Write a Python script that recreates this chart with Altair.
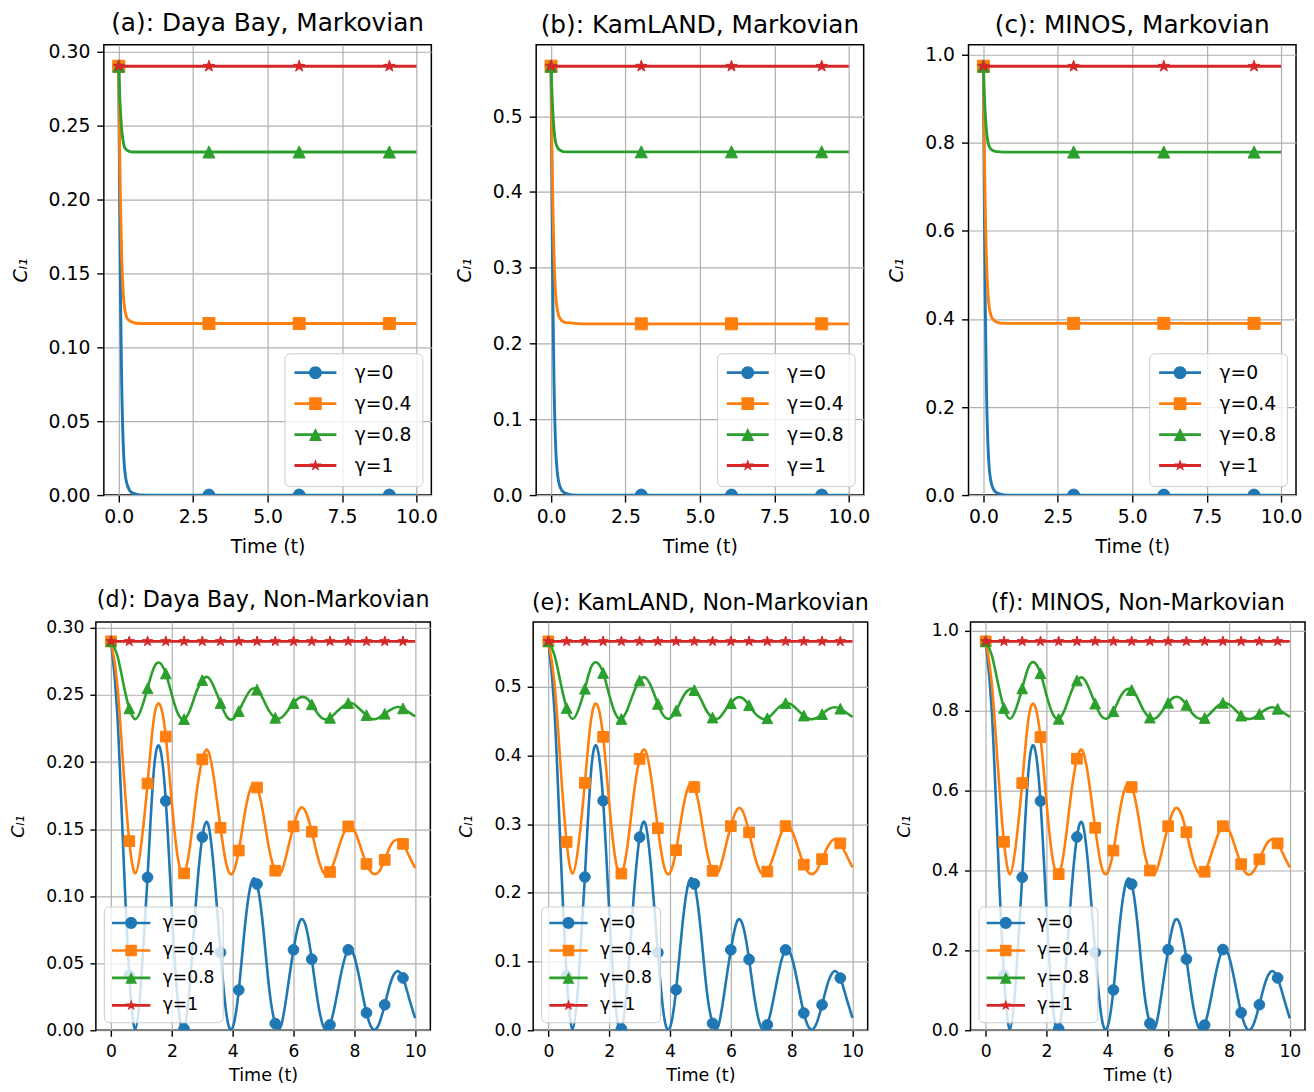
import altair as alt
import pandas as pd

SERIES = ["γ=0", "γ=0.4", "γ=0.8", "γ=1"]
COLORS = ["#1f77b4", "#ff7f0e", "#2ca02c", "#d62728"]

# ---------------- Markovian (top row) ----------------
T_M = [0.0, 0.03, 0.06, 0.1, 0.15, 0.2, 0.3, 0.45, 0.7, 1.0, 3.03, 6.06, 9.09, 10.0]
T_M_RED = [0.0, 3.03, 6.06, 9.09, 10.0]
MARK_T_M = [0.0, 3.03, 6.06, 9.09]

DB_M_G0 = [0.290, 0.197, 0.133, 0.075, 0.035, 0.017, 0.006, 0.0015, 0.0001, 0.0, 0.0, 0.0, 0.0, 0.0]
DB_M_G04 = [0.290, 0.234, 0.196, 0.161, 0.137, 0.126, 0.119, 0.117, 0.116, 0.116, 0.116, 0.116, 0.116, 0.116]
DB_M_G08 = [0.290, 0.271, 0.259, 0.247, 0.239, 0.235, 0.233, 0.232, 0.232, 0.232, 0.232, 0.232, 0.232, 0.232]
DB_M_G1 = [0.290, 0.290, 0.290, 0.290, 0.290]

KL_M_G0 = [0.566, 0.385, 0.260, 0.147, 0.068, 0.034, 0.011, 0.003, 0.0003, 0.0, 0.0, 0.0, 0.0, 0.0]
KL_M_G04 = [0.566, 0.457, 0.383, 0.315, 0.267, 0.247, 0.233, 0.228, 0.227, 0.226, 0.226, 0.226, 0.226, 0.226]
KL_M_G08 = [0.566, 0.530, 0.505, 0.482, 0.466, 0.460, 0.455, 0.453, 0.453, 0.453, 0.453, 0.453, 0.453, 0.453]
KL_M_G1 = [0.566, 0.566, 0.566, 0.566, 0.566]

MI_M_G0 = [0.974, 0.662, 0.448, 0.253, 0.117, 0.058, 0.019, 0.005, 0.0005, 0.0, 0.0, 0.0, 0.0, 0.0]
MI_M_G04 = [0.974, 0.787, 0.658, 0.542, 0.460, 0.425, 0.401, 0.393, 0.390, 0.390, 0.390, 0.390, 0.390, 0.390]
MI_M_G08 = [0.974, 0.912, 0.869, 0.830, 0.803, 0.791, 0.783, 0.780, 0.779, 0.779, 0.779, 0.779, 0.779, 0.779]
MI_M_G1 = [0.974, 0.974, 0.974, 0.974, 0.974]

# ---------------- Non-Markovian (bottom row) ----------------
T_NM = [0.0, 0.2, 0.4, 0.6, 0.8, 1.0, 1.2, 1.4, 1.6, 1.8,
        2.0, 2.2, 2.4, 2.6, 2.8, 3.0, 3.2, 3.4, 3.6, 3.8,
        4.0, 4.2, 4.4, 4.6, 4.8, 5.0, 5.2, 5.4, 5.6, 5.8,
        6.0, 6.2, 6.4, 6.6, 6.8, 7.0, 7.2, 7.4, 7.6, 7.8,
        8.0, 8.2, 8.4, 8.6, 8.8, 9.0, 9.2, 9.4, 9.6, 9.8,
        10.0]
T_NM_RED = [0.0, 0.6, 1.2, 1.8, 2.4, 3.0, 3.6, 4.2, 4.8, 5.4, 6.0, 6.6, 7.2, 7.8, 8.4, 9.0, 9.6, 10.0]
MARK_T_NM = [0.0, 0.6, 1.2, 1.8, 2.4, 3.0, 3.6, 4.2, 4.8, 5.4, 6.0, 6.6, 7.2, 7.8, 8.4, 9.0, 9.6]

DB_NM_G0 = [0.290, 0.238, 0.135, 0.041, 0.001, 0.040, 0.114, 0.192, 0.211, 0.171,
            0.089, 0.020, 0.001, 0.036, 0.098, 0.144, 0.153, 0.115, 0.058, 0.011,
            0.002, 0.030, 0.077, 0.109, 0.109, 0.077, 0.031, 0.005, 0.004, 0.030,
            0.060, 0.081, 0.078, 0.053, 0.021, 0.002, 0.004, 0.023, 0.046, 0.060,
            0.055, 0.035, 0.013, 0.001, 0.004, 0.019, 0.036, 0.044, 0.039, 0.024,
            0.009]
DB_NM_G04 = [0.290, 0.259, 0.197, 0.141, 0.117, 0.140, 0.184, 0.231, 0.243, 0.219,
             0.169, 0.128, 0.117, 0.138, 0.175, 0.202, 0.208, 0.185, 0.151, 0.123,
             0.117, 0.134, 0.162, 0.181, 0.181, 0.162, 0.135, 0.119, 0.118, 0.134,
             0.152, 0.165, 0.163, 0.148, 0.129, 0.117, 0.118, 0.130, 0.144, 0.152,
             0.149, 0.137, 0.124, 0.117, 0.118, 0.127, 0.138, 0.142, 0.139, 0.130,
             0.121]
DB_NM_G08 = [0.290, 0.280, 0.259, 0.240, 0.232, 0.240, 0.255, 0.270, 0.274, 0.266,
             0.250, 0.236, 0.232, 0.239, 0.252, 0.261, 0.263, 0.255, 0.244, 0.234,
             0.232, 0.238, 0.247, 0.254, 0.254, 0.247, 0.238, 0.233, 0.233, 0.238,
             0.244, 0.248, 0.248, 0.243, 0.236, 0.232, 0.233, 0.237, 0.241, 0.244,
             0.243, 0.239, 0.235, 0.232, 0.233, 0.236, 0.239, 0.241, 0.240, 0.237,
             0.234]
DB_NM_G1 = [0.290, 0.290, 0.290, 0.290, 0.290, 0.290, 0.290, 0.290, 0.290,
            0.290, 0.290, 0.290, 0.290, 0.290, 0.290, 0.290, 0.290, 0.290]

KL_NM_G0 = [0.566, 0.465, 0.264, 0.080, 0.002, 0.078, 0.223, 0.375, 0.412, 0.334,
            0.174, 0.039, 0.002, 0.070, 0.191, 0.281, 0.299, 0.224, 0.113, 0.021,
            0.004, 0.059, 0.150, 0.213, 0.213, 0.150, 0.061, 0.010, 0.008, 0.059,
            0.117, 0.158, 0.152, 0.103, 0.041, 0.004, 0.008, 0.045, 0.090, 0.117,
            0.107, 0.068, 0.025, 0.002, 0.008, 0.037, 0.070, 0.086, 0.076, 0.047,
            0.018]
KL_NM_G04 = [0.566, 0.505, 0.385, 0.274, 0.228, 0.273, 0.360, 0.451, 0.474, 0.427,
             0.331, 0.250, 0.228, 0.268, 0.341, 0.395, 0.406, 0.361, 0.294, 0.239,
             0.229, 0.262, 0.316, 0.354, 0.354, 0.316, 0.263, 0.232, 0.231, 0.262,
             0.297, 0.321, 0.318, 0.288, 0.251, 0.229, 0.231, 0.253, 0.280, 0.297,
             0.291, 0.267, 0.241, 0.228, 0.231, 0.249, 0.268, 0.278, 0.272, 0.255,
             0.237]
KL_NM_G08 = [0.566, 0.546, 0.506, 0.469, 0.453, 0.468, 0.497, 0.528, 0.535, 0.520,
             0.488, 0.461, 0.453, 0.467, 0.491, 0.509, 0.513, 0.498, 0.475, 0.457,
             0.454, 0.465, 0.483, 0.495, 0.495, 0.483, 0.465, 0.455, 0.454, 0.465,
             0.476, 0.484, 0.483, 0.473, 0.461, 0.454, 0.454, 0.462, 0.471, 0.476,
             0.474, 0.466, 0.458, 0.453, 0.454, 0.460, 0.467, 0.470, 0.468, 0.462,
             0.456]
KL_NM_G1 = [0.566, 0.566, 0.566, 0.566, 0.566, 0.566, 0.566, 0.566, 0.566,
            0.566, 0.566, 0.566, 0.566, 0.566, 0.566, 0.566, 0.566, 0.566]

MI_NM_G0 = [0.974, 0.799, 0.453, 0.138, 0.003, 0.134, 0.383, 0.645, 0.709, 0.574,
            0.299, 0.067, 0.003, 0.121, 0.329, 0.484, 0.514, 0.386, 0.195, 0.037,
            0.007, 0.101, 0.259, 0.366, 0.366, 0.259, 0.104, 0.017, 0.013, 0.101,
            0.202, 0.272, 0.262, 0.178, 0.071, 0.007, 0.013, 0.077, 0.154, 0.202,
            0.185, 0.118, 0.044, 0.003, 0.013, 0.064, 0.121, 0.148, 0.131, 0.081,
            0.030]
MI_NM_G04 = [0.974, 0.869, 0.661, 0.472, 0.391, 0.470, 0.619, 0.777, 0.815, 0.734,
             0.569, 0.430, 0.391, 0.462, 0.587, 0.680, 0.698, 0.621, 0.507, 0.412,
             0.394, 0.450, 0.545, 0.609, 0.609, 0.545, 0.452, 0.400, 0.397, 0.450,
             0.511, 0.553, 0.547, 0.496, 0.432, 0.394, 0.397, 0.436, 0.482, 0.511,
             0.501, 0.460, 0.416, 0.391, 0.397, 0.428, 0.462, 0.478, 0.468, 0.438,
             0.408]
MI_NM_G08 = [0.974, 0.939, 0.870, 0.807, 0.780, 0.806, 0.856, 0.908, 0.921, 0.894,
             0.839, 0.793, 0.780, 0.803, 0.845, 0.876, 0.882, 0.856, 0.818, 0.787,
             0.781, 0.799, 0.831, 0.852, 0.852, 0.831, 0.800, 0.783, 0.782, 0.799,
             0.820, 0.834, 0.832, 0.815, 0.793, 0.781, 0.782, 0.795, 0.810, 0.820,
             0.816, 0.803, 0.788, 0.780, 0.782, 0.792, 0.803, 0.809, 0.805, 0.795,
             0.785]
MI_NM_G1 = [0.974, 0.974, 0.974, 0.974, 0.974, 0.974, 0.974, 0.974, 0.974,
            0.974, 0.974, 0.974, 0.974, 0.974, 0.974, 0.974, 0.974, 0.974]

# axis ticks
X_TICKS_M = [0, 2.5, 5, 7.5, 10]
X_TICKS_NM = [0, 2, 4, 6, 8, 10]
Y_TICKS_DB = [0.0, 0.05, 0.10, 0.15, 0.20, 0.25, 0.30]
Y_TICKS_KL = [0.0, 0.1, 0.2, 0.3, 0.4, 0.5]
Y_TICKS_MI = [0.0, 0.2, 0.4, 0.6, 0.8, 1.0]
Y_DOM_DB = [0, 0.3045]
Y_DOM_KL = [0, 0.5943]
Y_DOM_MI = [0, 1.0227]

FONT = "DejaVu Sans"

# marker glyphs (matplotlib o, s, ^, *)
TRI = "M0,-1L1,1L-1,1Z"
STAR = ("M0,-1L0.2245,-0.309L0.951,-0.309L0.363,0.118L0.588,0.809L0,0.382"
        "L-0.588,0.809L-0.363,0.118L-0.951,-0.309L-0.2245,-0.309Z")
SHAPES = ["circle", "square", TRI, STAR]

# legend glyphs: line segment (thin filled bar) + marker
BAR = "M-3.5,-0.24L3.5,-0.24L3.5,0.24L-3.5,0.24Z"
STAR_L = ("M0,-1.1L0.247,-0.34L1.046,-0.34L0.399,0.13L0.647,0.89L0,0.42"
          "L-0.647,0.89L-0.399,0.13L-1.046,-0.34L-0.247,-0.34Z")
LEG_PATHS = [
    BAR + "M1.08,0A1.08,1.08,0,1,1,-1.08,0A1.08,1.08,0,1,1,1.08,0Z",
    BAR + "M-1.05,-1.05L1.05,-1.05L1.05,1.05L-1.05,1.05Z",
    BAR + "M0,-1.08L1.08,1.08L-1.08,1.08Z",
    BAR + STAR_L,
]

TOP = dict(w=328, h=451, fs=18.8, tfs=24.8, afs=19, lw=2.9, ms=145, leg_sym=144,
           leg_so=11.5, leg_lo=30, leg_rp=11, leg_pad=10, leg_off=9, tick=7, lpad=5,
           ylpad=7, xtpad=12, ytpad=18, toff=7)
BOT = dict(w=335, h=409, fs=17.2, tfs=22.2, afs=17.6, lw=2.6, ms=115, leg_sym=121,
           leg_so=10.75, leg_lo=23, leg_rp=9.5, leg_pad=8, leg_off=8, tick=6, lpad=6,
           ylpad=6, xtpad=7, ytpad=18, toff=8)


def panel(title, series, mark_t, ydom, yticks, yfmt, xticks, xfmt, st, interp, orient):
    rows = []
    for name, (ts, vs) in zip(SERIES, series):
        for tt, vv in zip(ts, vs):
            rows.append({"t": tt, "C": vv, "series": name,
                         "mk": any(abs(tt - m) < 1e-9 for m in mark_t),
                         "first": tt == 0.0})
    df = pd.DataFrame(rows)

    common_axis = dict(
        labelFont=FONT, titleFont=FONT, labelColor="black", titleColor="black",
        labelFontSize=st["fs"], titleFontSize=st["afs"], titleFontWeight="normal",
        tickColor="black", tickSize=st["tick"], tickWidth=1.4,
        domain=False, grid=True, gridColor="#b0b0b0", gridWidth=1.2, labelFlush=False,
        labelOverlap=False,
    )
    xenc = alt.X("t:Q", title="Time (t)",
                 scale=alt.Scale(domain=[-0.5, 10.5], nice=False, zero=False),
                 axis=alt.Axis(values=xticks, format=xfmt, titlePadding=st["xtpad"],
                               labelPadding=st["lpad"], **common_axis))
    yenc = alt.Y("C:Q", title="Cₗ₁",
                 scale=alt.Scale(domain=ydom, nice=False, zero=False),
                 axis=alt.Axis(values=yticks, format=yfmt, titlePadding=st["ytpad"],
                               labelPadding=st["ylpad"], titleFontStyle="italic",
                               **common_axis))

    legend = alt.Legend(
        title=None, orient=orient, offset=st["leg_off"], padding=st["leg_pad"],
        fillColor="rgba(255,255,255,0.8)", strokeColor="#cccccc", cornerRadius=5,
        labelFont=FONT, labelFontSize=st["fs"], labelColor="black",
        symbolSize=st["leg_sym"], symbolStrokeWidth=0, symbolOffset=st["leg_so"],
        symbolOpacity=1, labelOffset=st["leg_lo"], rowPadding=st["leg_rp"],
    )

    base = alt.Chart(df)
    layers = []
    for i, name in enumerate(SERIES):
        sub = base.transform_filter(alt.datum.series == name)
        layers.append(
            sub.mark_line(interpolate=interp, strokeWidth=st["lw"], color=COLORS[i], clip=True)
            .encode(x=xenc, y=yenc)
        )
        layers.append(
            sub.transform_filter(alt.datum.mk)
            .mark_point(shape=SHAPES[i], filled=True, size=st["ms"], fill=COLORS[i],
                        stroke=COLORS[i], strokeWidth=1, opacity=1, clip=True)
            .encode(x=xenc, y=yenc)
        )
    # invisible layer that only carries the legend (line + marker glyphs)
    layers.append(
        base.transform_filter(alt.datum.first)
        .mark_point(filled=True, opacity=0)
        .encode(
            x=xenc, y=yenc,
            fill=alt.Fill("series:N", scale=alt.Scale(domain=SERIES, range=COLORS), legend=legend),
            shape=alt.Shape("series:N", scale=alt.Scale(domain=SERIES, range=LEG_PATHS), legend=legend),
        )
    )
    return alt.layer(*layers).properties(
        width=st["w"], height=st["h"],
        view=alt.ViewBackground(stroke="black", strokeWidth=1.5),
        title=alt.Title(title, font=FONT, fontSize=st["tfs"], fontWeight="normal",
                        color="black", offset=st["toff"], anchor="middle"),
    )


pa = panel("(a): Daya Bay, Markovian",
           [(T_M, DB_M_G0), (T_M, DB_M_G04), (T_M, DB_M_G08), (T_M_RED, DB_M_G1)],
           MARK_T_M, Y_DOM_DB, Y_TICKS_DB, ".2f", X_TICKS_M, ".1f", TOP, "monotone", "bottom-right")
pb = panel("(b): KamLAND, Markovian",
           [(T_M, KL_M_G0), (T_M, KL_M_G04), (T_M, KL_M_G08), (T_M_RED, KL_M_G1)],
           MARK_T_M, Y_DOM_KL, Y_TICKS_KL, ".1f", X_TICKS_M, ".1f", TOP, "monotone", "bottom-right")
pc = panel("(c): MINOS, Markovian",
           [(T_M, MI_M_G0), (T_M, MI_M_G04), (T_M, MI_M_G08), (T_M_RED, MI_M_G1)],
           MARK_T_M, Y_DOM_MI, Y_TICKS_MI, ".1f", X_TICKS_M, ".1f", TOP, "monotone", "bottom-right")
pd_ = panel("(d): Daya Bay, Non-Markovian",
            [(T_NM, DB_NM_G0), (T_NM, DB_NM_G04), (T_NM, DB_NM_G08), (T_NM_RED, DB_NM_G1)],
            MARK_T_NM, Y_DOM_DB, Y_TICKS_DB, ".2f", X_TICKS_NM, "d", BOT, "natural", "bottom-left")
pe = panel("(e): KamLAND, Non-Markovian",
           [(T_NM, KL_NM_G0), (T_NM, KL_NM_G04), (T_NM, KL_NM_G08), (T_NM_RED, KL_NM_G1)],
           MARK_T_NM, Y_DOM_KL, Y_TICKS_KL, ".1f", X_TICKS_NM, "d", BOT, "natural", "bottom-left")
pf = panel("(f): MINOS, Non-Markovian",
           [(T_NM, MI_NM_G0), (T_NM, MI_NM_G04), (T_NM, MI_NM_G08), (T_NM_RED, MI_NM_G1)],
           MARK_T_NM, Y_DOM_MI, Y_TICKS_MI, ".1f", X_TICKS_NM, "d", BOT, "natural", "bottom-left")


def indep(c):
    return c.resolve_scale(
        x="independent", y="independent", fill="independent", shape="independent"
    ).resolve_legend(fill="independent", shape="independent")


# tiny empty cell that nudges the top row a few pixels to the right of the bottom row
spacer = alt.Chart(pd.DataFrame({"s": [0]})).mark_point(opacity=0).encode(
    x=alt.X("s:Q", axis=None), y=alt.Y("s:Q", axis=None)
).properties(width=1, height=1)

top_inner = indep(alt.hconcat(pa, pb, pc, spacing=105, bounds="flush"))
top = indep(alt.hconcat(spacer, top_inner, spacing=7, bounds="flush"))
bottom = indep(alt.hconcat(pd_, pe, pf, spacing=103, bounds="flush"))
chart = indep(alt.vconcat(top, bottom, spacing=30))

chart = chart.properties(padding={"left": 0, "top": 1, "right": 0, "bottom": 0}).configure(
    background="white"
).configure_view(strokeWidth=0)

chart.save("out.html", embed_options={"renderer": "svg", "actions": False})
